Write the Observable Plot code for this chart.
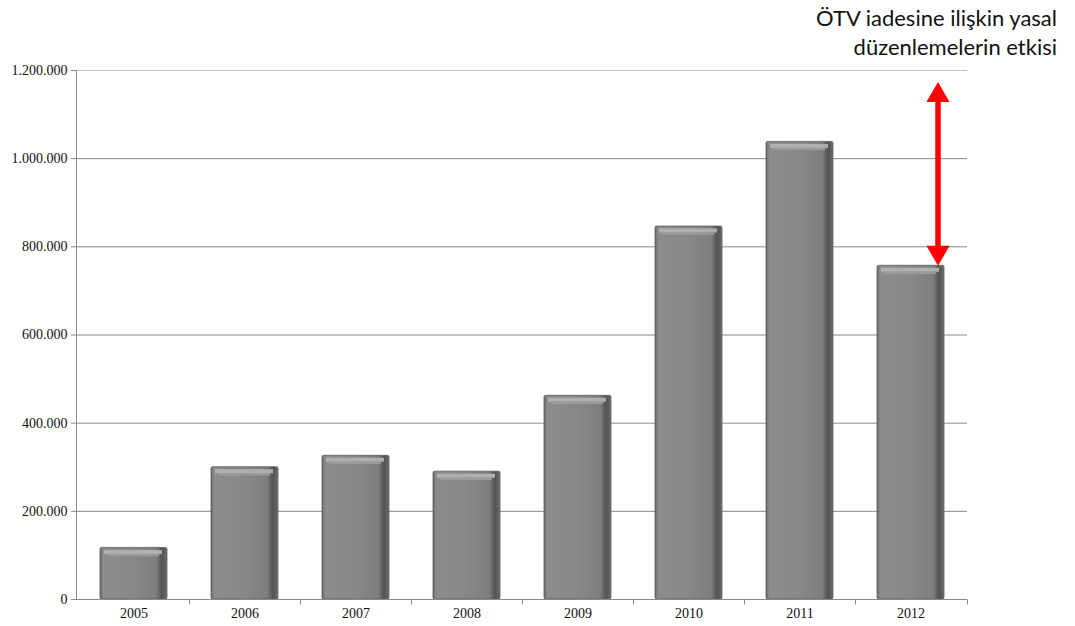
<!DOCTYPE html>
<html>
<head>
<meta charset="utf-8">
<script src="https://cdn.jsdelivr.net/npm/d3@7"></script>
<script src="https://cdn.jsdelivr.net/npm/@observablehq/plot@0.6"></script>
<style>
  html, body { margin: 0; padding: 0; background: #fff; }
  #wrap { position: relative; width: 1075px; height: 626px; }
  #note { position: absolute; right: 18px; top: 3px; text-align: right;
          font-family: Lato, "Open Sans", sans-serif; font-size: 22px; line-height: 29px; color: #111; }
</style>
</head>
<body>
<div id="wrap">
  <div id="note">ÖTV iadesine ilişkin yasal<br>düzenlemelerin etkisi</div>
</div>
<script>
const years = ["2005", "2006", "2007", "2008", "2009", "2010", "2011", "2012"];
const values = [117000, 300000, 326000, 290000, 462000, 846000, 1038000, 757000];
const yTicks = [0, 200000, 400000, 600000, 800000, 1000000, 1200000];
const arrowYear = "2012";
const arrowFrom = 757000;
const arrowTo = 1174000;

const data = years.map((y, i) => ({year: y, value: values[i]}));
const fmt = d3.formatLocale({decimal: ",", thousands: ".", grouping: [3], currency: ["", ""]}).format(",d");

const defs = () => {
  const svg = d3.create("svg:g");
  const d = svg.append("defs");
  const g = d.append("linearGradient").attr("id", "barGrad").attr("x1", 0).attr("x2", 1).attr("y1", 0).attr("y2", 0);
  [[0, "#6a6a6a"], [0.05, "#8c8c8c"], [0.5, "#888888"], [0.84, "#7e7e7e"], [0.92, "#545454"], [0.97, "#5e5e5e"], [1, "#777"]]
    .forEach(([o, c]) => g.append("stop").attr("offset", o).attr("stop-color", c));
  return svg.node();
};

const axisLines = (index, scales, values, dims) => {
  const x = scales.x, y = scales.y;
  const g = d3.create("svg:g").attr("stroke", "#8a8a8a").attr("stroke-width", 1);
  const y0 = Math.round(y(0)) + 0.5;
  const yTop = Math.round(y(1200000));
  const bw = x.bandwidth();
  const step = (dims.width - dims.marginLeft - dims.marginRight) / (years.length);
  const outer = (step - bw) / 2;
  const xl = dims.marginLeft + 0.5;
  g.append("line").attr("x1", xl).attr("x2", xl).attr("y1", yTop).attr("y2", y0);
  years.forEach((yr, i) => {
    if (i === 0) return;
    const xb = Math.round(x(yr) - outer) + 0.5;
    g.append("line").attr("x1", xb).attr("x2", xb).attr("y1", y0).attr("y2", y0 + 5);
  });
  const xe = dims.width - dims.marginRight + 0.5;
  g.append("line").attr("x1", xe).attr("x2", xe).attr("y1", y0).attr("y2", y0 + 5);
  return g.node();
};

const chart = Plot.plot({
  width: 1075,
  height: 626,
  marginLeft: 76,
  marginRight: 108,
  marginTop: 70,
  marginBottom: 27,
  style: {fontFamily: "'Liberation Serif', 'Times New Roman', serif", fontSize: "14px", color: "#111", background: "white"},
  x: {domain: years, paddingInner: 0.4, paddingOuter: 0.2, label: null},
  y: {domain: [0, 1200000], label: null},
  marks: [
    defs,
    Plot.ruleY(yTicks, {stroke: d => d === 1200000 ? "#c4c4c4" : "#8a8a8a", strokeOpacity: 1}),
    Plot.axisY({ticks: yTicks, tickFormat: fmt, tickSize: 5, tickPadding: 4, stroke: "#8a8a8a", fill: "#111", label: null}),
    Plot.axisX({tickSize: 0, tickPadding: 9, fill: "#111", label: null}),
    Plot.barY(data, {x: "year", y: "value", fill: "url(#barGrad)", stroke: "#5c5c5c", strokeWidth: 0.8, rx: 1.5}),
    Plot.tickY(data, {x: "year", y: "value", dy: 4, stroke: "#b2b2b2", strokeWidth: 4, strokeOpacity: 0.95, insetLeft: 4, insetRight: 5}),
    Plot.tickY(data, {x: "year", y: "value", dy: 7, stroke: "#9c9c9c", strokeWidth: 2.5, strokeOpacity: 0.9, insetLeft: 7, insetRight: 8}),
    axisLines,
    Plot.ruleY([0], {stroke: "#8a8a8a"}),
    // arrow
    Plot.ruleX([arrowYear], {x: d => d, y1: arrowTo, y2: arrowFrom, dx: 27, stroke: "#ff0000", strokeWidth: 5.5, insetTop: 12, insetBottom: 12}),
    Plot.dot([arrowTo], {x: () => arrowYear, y: d => d, symbol: "triangle", r: 8.6, fill: "#ff0000", stroke: "none", dx: 27, dy: 13.3}),
    Plot.dot([arrowFrom], {x: () => arrowYear, y: d => d, symbol: "triangle", r: 8.6, fill: "#ff0000", stroke: "none", dx: 27, dy: -13.3, rotate: 180})
  ]
});
document.getElementById("wrap").prepend(chart);
chart.style.position = "absolute";
chart.style.left = "0";
chart.style.top = "0";
</script>
</body>
</html>
